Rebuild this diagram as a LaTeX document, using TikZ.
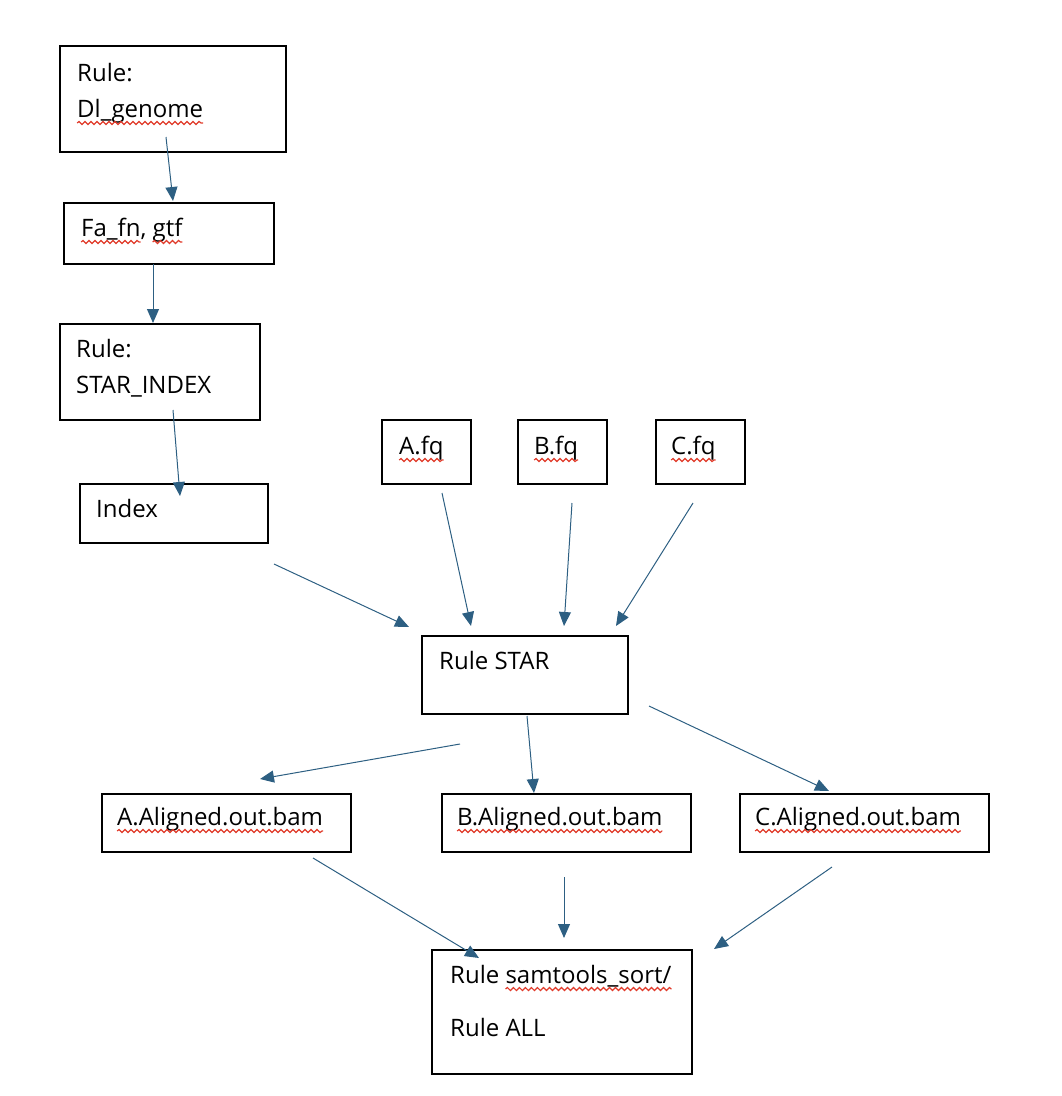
\documentclass[tikz,border=0pt]{standalone}
\usepackage{fontspec}
\setmainfont{Open Sans}
\usetikzlibrary{arrows.meta,decorations.pathmorphing}
\definecolor{arrowc}{HTML}{2D5F82}
\definecolor{sqred}{HTML}{E03A2A}
\newsavebox\sqbox
\newcommand\sqw[1]{\sbox\sqbox{#1}\rlap{\usebox\sqbox}\makebox[\wd\sqbox][l]{\tikz[baseline=0pt]{\useasboundingbox (0pt,0pt) rectangle (\wd\sqbox,1pt); \draw[sqred,line width=1.2pt,decorate,decoration={snake,amplitude=1.5pt,segment length=6pt}] (0pt,-6pt) -- (\wd\sqbox,-6pt);}}}
\tikzset{
  box/.style={draw=black, line width=1.2pt, rectangle, inner sep=0pt},
  lbl/.style={anchor=base west, inner sep=0pt, font=\fontsize{24}{29}\selectfont},
  conn/.style={draw=arrowc, line width=1pt, -{Triangle[length=14pt,width=12pt]}}
}
\begin{document}
\begin{tikzpicture}[x=1pt,y=-1pt]
\useasboundingbox (0,0) rectangle (1062,1096);
% boxes
\node[box, minimum width=226pt, minimum height=106pt] (dl) at (173,99) {};
\node[box, minimum width=210pt, minimum height=61pt] (fa) at (169,233.5) {};
\node[box, minimum width=200pt, minimum height=96pt] (si) at (160,372) {};
\node[box, minimum width=188pt, minimum height=59pt] (ix) at (174,513.5) {};
\node[box, minimum width=89pt, minimum height=64pt] (afq) at (426.5,452) {};
\node[box, minimum width=89pt, minimum height=64pt] (bfq) at (562.5,452) {};
\node[box, minimum width=89pt, minimum height=64pt] (cfq) at (700.5,452) {};
\node[box, minimum width=206pt, minimum height=78pt] (star) at (525,675) {};
\node[box, minimum width=249pt, minimum height=58pt] (abam) at (226.5,823) {};
\node[box, minimum width=249pt, minimum height=58pt] (bbam) at (566.5,823) {};
\node[box, minimum width=249pt, minimum height=58pt] (cbam) at (864.5,823) {};
\node[box, minimum width=260pt, minimum height=124pt] (sort) at (562,1012) {};
% labels
\node[lbl] (t1a) at (77,81) {Rule:};
\node[lbl] (t1b) at (77,117) {\sqw{Dl\_genome}};
\node[lbl] (t2) at (81,236) {\sqw{Fa\_fn}, \sqw{gtf}};
\node[lbl] (t3a) at (76,357) {Rule:};
\node[lbl] (t3b) at (76,393) {STAR\_INDEX};
\node[lbl] (t4) at (96,517) {Index};
\node[lbl] (t5) at (399,454) {\sqw{A.fq}};
\node[lbl] (t6) at (534,454) {\sqw{B.fq}};
\node[lbl] (t7) at (671,454) {\sqw{C.fq}};
\node[lbl] (t8) at (439,669) {Rule STAR};
\node[lbl] (t9) at (117,825) {\sqw{A.Aligned.out.bam}};
\node[lbl] (t10) at (457,825) {\sqw{B.Aligned.out.bam}};
\node[lbl] (t11) at (755,825) {\sqw{C.Aligned.out.bam}};
\node[lbl] (t12a) at (450,983) {Rule \sqw{samtools\_sort/}};
\node[lbl] (t12b) at (450,1036) {Rule ALL};
% connector ends
\coordinate (c1s) at (166,137); \coordinate (c1e) at (173,201);
\coordinate (c2s) at (153,264); \coordinate (c2e) at (153,323);
\coordinate (c3s) at (173,410); \coordinate (c3e) at (180,496);
\coordinate (c4s) at (274,564); \coordinate (c4e) at (409,627);
\coordinate (c5s) at (442,493); \coordinate (c5e) at (471,626);
\coordinate (c6s) at (572,503); \coordinate (c6e) at (564,626);
\coordinate (c7s) at (693,503); \coordinate (c7e) at (616,626);
\coordinate (c8s) at (460,744); \coordinate (c8e) at (260,779);
\coordinate (c9s) at (527,716); \coordinate (c9e) at (534,793);
\coordinate (c10s) at (649,706); \coordinate (c10e) at (829,791);
\coordinate (c11s) at (313,858); \coordinate (c11e) at (479,958);
\coordinate (c12s) at (564,877); \coordinate (c12e) at (564,938);
\coordinate (c13s) at (832,867); \coordinate (c13e) at (714,949);
\foreach \i in {1,...,13} { \draw[conn] (c\i s) -- (c\i e); }
\end{tikzpicture}
\end{document}
